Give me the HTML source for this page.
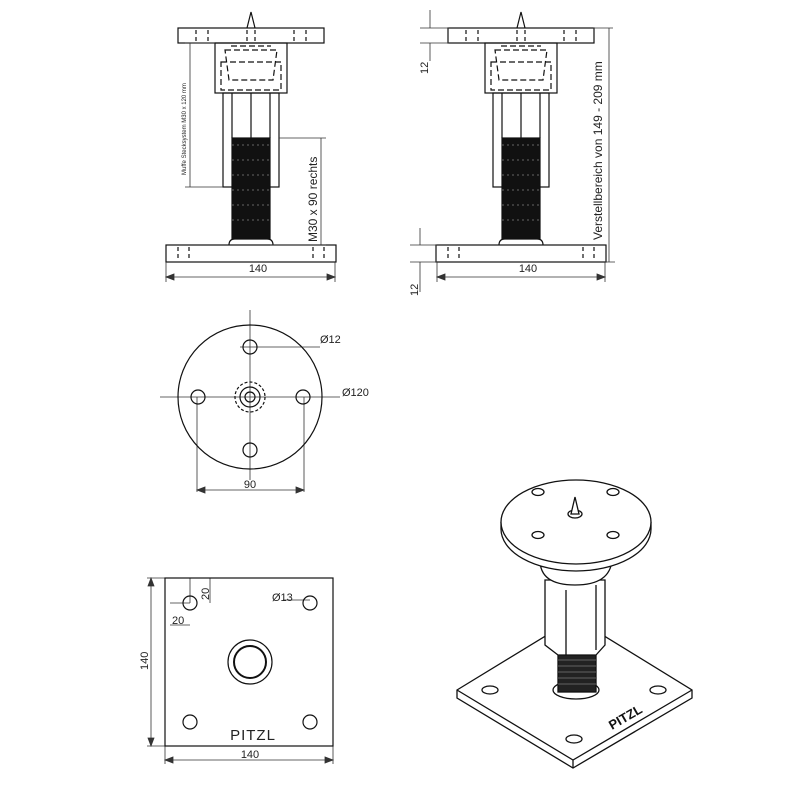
<!DOCTYPE html>
<html><head><meta charset="utf-8"><style>body{margin:0;background:#fff}svg{display:block}text{font-family:"Liberation Sans",sans-serif;fill:#222}</style></head><body>
<svg width="800" height="800" viewBox="0 0 800 800" xmlns="http://www.w3.org/2000/svg">
<defs>
<g id="side" fill="none" stroke="#111" stroke-width="1.2">
<path d="M-4 28 L0 12 L4 28" />
<rect x="-73" y="28" width="146" height="15" fill="#fff"/>
<path d="M-55 30v12 M-43 30v12 M43 30v12 M55 30v12 M-4 30v12 M4 30v12" stroke-dasharray="4 3"/>
<rect x="-36" y="43" width="72" height="50"/>
<rect x="-28" y="93" width="56" height="94"/>
<path d="M-19 93v45 M19 93v45 M0 93v45"/>
<path d="M-26 50h52l-4 30h-44z M-30 62h60v28h-60z M-20 46h40" stroke-dasharray="6 3"/>
<rect x="-19" y="138" width="38" height="107" fill="#111"/>
<path d="M-19 145h38 M-19 160h38 M-19 175h38 M-19 190h38 M-19 205h38 M-19 220h38" stroke="#555" stroke-dasharray="2 3"/>
<path d="M-22 245q0-6 6-6h32q6 0 6 6" fill="#fff"/>
<rect x="-85" y="245" width="170" height="17" fill="#fff"/>
<path d="M-73 247v14 M-62 247v14 M62 247v14 M73 247v14" stroke-dasharray="4 3"/>
</g>
</defs>
<use href="#side" x="251" y="0"/>
<use href="#side" x="521" y="0"/>
<g stroke="#333" stroke-width="0.8" fill="none">
<!-- left dims -->
<path d="M166 262v20 M335 262v20 M166 277h169"/>
<path d="M166 277l8-3v6z M335 277l-8-3v6z" fill="#333"/>
<path d="M190 43v144 M185 43h30 M185 187h38"/>
<path d="M279 138h47 M270 245h56 M321 138v107"/>
<!-- right dims -->
<path d="M437 262v20 M605 262v20 M437 277h168"/>
<path d="M437 277l8-3v6z M605 277l-8-3v6z" fill="#333"/>
<path d="M420 28h29 M420 43h29 M430 10v18 M430 43v18"/>
<path d="M410 245h27 M410 262h27 M420 228v17 M420 262v30"/>
<path d="M593 28h20 M605 262h10 M609 28v234"/>
<!-- round view -->
<path d="M160 397h180 M250 310v170 M197 397v95 M304 397v95 M197 490h107 M240 347h80"/>
<path d="M197 490l8-3v6z M304 490l-8-3v6z" fill="#333"/>
<!-- square dims -->
<path d="M165 746v18 M333 746v18 M165 760h168 M165 578h-18 M165 746h-18 M151 578v168"/>
<path d="M165 760l8-3v6z M333 760l-8-3v6z M151 578l-3 8h6z M151 746l-3-8h6z" fill="#333"/>
<path d="M190 578v25 M210 578v25 M170 625h20 M170 603h20 M283 600h27"/>
</g>
<g font-size="11">
<text x="258" y="272" text-anchor="middle">140</text>
<text x="528" y="272" text-anchor="middle">140</text>
<text transform="translate(186 175) rotate(-90)" font-size="6">Muffe Stecksystem M30 x 120 mm</text>
<text transform="translate(317 242) rotate(-90)" font-size="12">M30 x 90 rechts</text>
<text transform="translate(602 240) rotate(-90)" font-size="12">Verstellbereich von 149 - 209 mm</text>
<text transform="translate(428 74) rotate(-90)">12</text>
<text transform="translate(418 296) rotate(-90)">12</text>
<text x="320" y="343">Ø12</text>
<text x="342" y="396">Ø120</text>
<text x="250" y="488" text-anchor="middle">90</text>
<text x="250" y="758" text-anchor="middle">140</text>
<text transform="translate(148 670) rotate(-90)">140</text>
<text x="272" y="601">Ø13</text>
<text x="172" y="624">20</text>
<text transform="translate(209 600) rotate(-90)">20</text>
<text x="253" y="740" text-anchor="middle" font-size="15" letter-spacing="1">PITZL</text>
</g>
<g fill="none" stroke="#111" stroke-width="1.2">
<circle cx="250" cy="397" r="72"/>
<circle cx="250" cy="347" r="7"/><circle cx="198" cy="397" r="7"/><circle cx="303" cy="397" r="7"/><circle cx="250" cy="450" r="7"/>
<circle cx="250" cy="397" r="15" stroke-dasharray="3 2"/><circle cx="250" cy="397" r="10"/><circle cx="250" cy="397" r="5"/>
<rect x="165" y="578" width="168" height="168"/>
<circle cx="190" cy="603" r="7"/><circle cx="310" cy="603" r="7"/><circle cx="190" cy="722" r="7"/><circle cx="310" cy="722" r="7"/>
<circle cx="250" cy="662" r="22"/><circle cx="250" cy="662" r="16" stroke-width="2"/>
</g>
<!-- 3D view -->
<g fill="#fff" stroke="#111" stroke-width="1.3">
<path d="M457 690 L575 618 L692 690 L692 698 L573 768 L457 698 Z"/>
<path d="M457 690 L573 760 L692 690 M573 760v8" fill="none"/>
<ellipse cx="490" cy="690" rx="8" ry="4"/><ellipse cx="658" cy="690" rx="8" ry="4"/><ellipse cx="574" cy="739" rx="8" ry="4"/>
<text x="612" y="730" transform="rotate(-30 612 730)" font-size="13" font-weight="bold" style="fill:#111;stroke:none">PITZL</text>
<ellipse cx="576" cy="690" rx="23" ry="9"/>
<rect x="558" y="650" width="38" height="42" fill="#222"/>
<path d="M558 660h38 M558 666h38 M558 672h38 M558 678h38 M558 684h38" stroke="#777" stroke-width="0.8"/>
<path d="M545 580 L545 645 L558 655 L596 655 L605 645 L605 580 Z"/>
<path d="M566 590v65 M596 585v65" fill="none"/>
<path d="M540 560 Q540 585 575 585 Q610 585 612 560 Z"/>
<path d="M501 522 v7 a75 42 0 0 0 150 0 v-7" />
<ellipse cx="576" cy="522" rx="75" ry="42"/>
<ellipse cx="538" cy="492" rx="6" ry="3.5"/><ellipse cx="613" cy="492" rx="6" ry="3.5"/>
<ellipse cx="538" cy="535" rx="6" ry="3.5"/><ellipse cx="613" cy="535" rx="6" ry="3.5"/>
<ellipse cx="575" cy="514" rx="7" ry="4"/>
<path d="M571 514 L575 497 L579 514 Z"/>
</g>
</svg>
</body></html>
